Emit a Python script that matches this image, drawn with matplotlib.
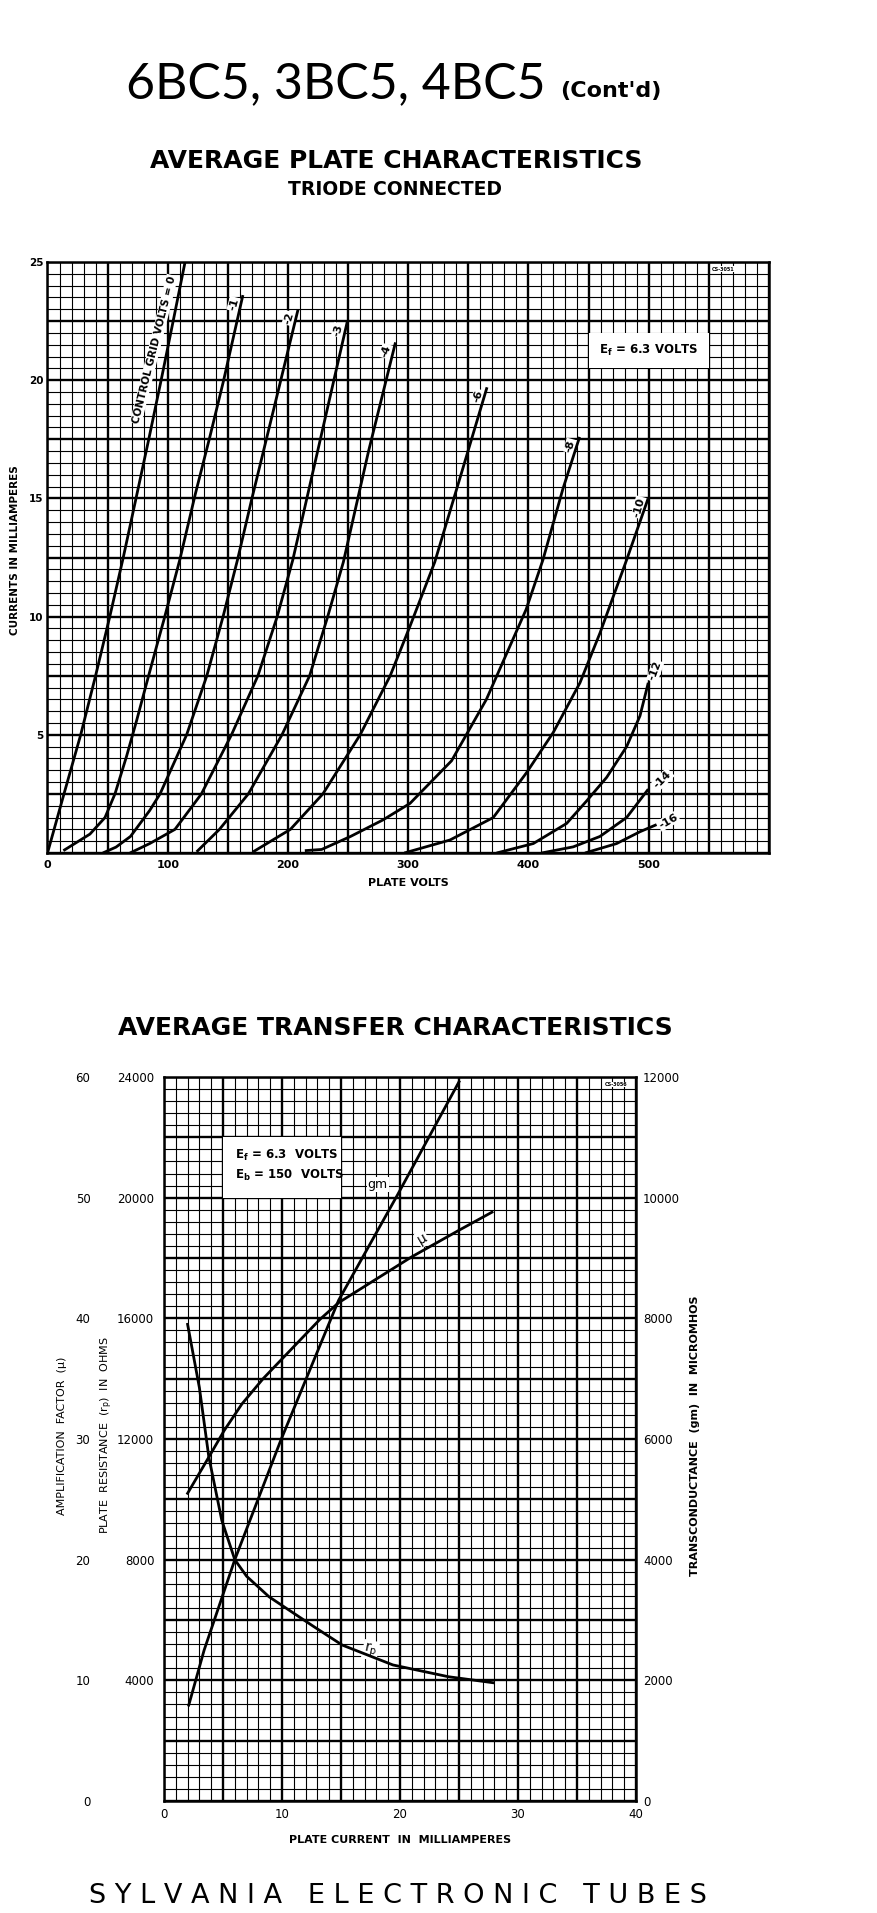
import matplotlib
matplotlib.use("Agg")
import matplotlib.pyplot as plt
import numpy as np
from matplotlib.patches import Rectangle

plt.rcParams["font.family"] = ["DejaVu Sans"]

W, H = 878, 1913

# ---- average plate characteristics, triode connected (plate volts, mA) ----
grid_labels = ["0", "-1", "-2", "-3", "-4", "-6", "-8", "-10", "-12", "-14", "-16"]

eb_g0 = [0, 13.7, 27.6, 40, 51.8, 63, 73.6, 84.2, 94.5, 104.5, 114.4]
ib_g0 = [0, 2.5, 5, 7.5, 10, 12.5, 15, 17.5, 20, 22.5, 25]

eb_g1 = [13.2, 35.3, 47.8, 56.1, 65.8, 74.1, 82.5, 90.5, 97, 110, 123, 135, 146.5, 162.5]
ib_g1 = [0.1, 0.8, 1.5, 2.5, 4.1, 5.6, 7.2, 8.7, 9.9, 12.4, 15.2, 17.6, 20, 23.6]

eb_g2 = [46, 57, 69, 85, 93.6, 115.7, 132.5, 146, 158, 170, 182, 194, 208.4]
ib_g2 = [0, 0.25, 0.7, 1.8, 2.5, 5, 7.5, 10, 12.4, 15, 17.5, 20, 23.0]

eb_g3 = [68.6, 85, 106, 128, 153, 175, 191, 204, 226, 249.4]
ib_g3 = [0, 0.4, 1.0, 2.5, 5, 7.5, 10, 12.4, 17.3, 22.5]

eb_g4 = [124, 143, 167, 195, 218, 233, 246, 267, 289.4]
ib_g4 = [0.05, 1.0, 2.5, 5, 7.5, 10, 12.3, 17, 21.6]

eb_g6 = [171, 202, 229, 260, 285, 301.5, 322, 345, 365.5]
ib_g6 = [0.05, 1.0, 2.5, 5, 7.5, 9.6, 12.3, 16.2, 19.7]

eb_g8 = [214, 228, 252, 279, 301.5, 336, 365, 398, 412, 428.6, 442.5]
ib_g8 = [0.1, 0.15, 0.7, 1.4, 2.1, 3.9, 6.5, 10.3, 12.4, 15.4, 17.6]

eb_g10 = [296.7, 334.7, 370.7, 398.4, 420.6, 442.8, 459.4, 481.6, 499.5]
ib_g10 = [0, 0.55, 1.5, 3.4, 5.1, 7.2, 9.3, 12.4, 15.0]

eb_g12 = [373.5, 404, 431.7, 448.3, 465, 481.6, 492.7, 499.6]
ib_g12 = [0, 0.4, 1.25, 2.2, 3.2, 4.5, 5.8, 7.2]

eb_g14 = [410.9, 437.2, 459.4, 481.6, 499.6]
ib_g14 = [0, 0.26, 0.7, 1.5, 2.7]

eb_g16 = [447, 473.3, 492.7, 506.5]
ib_g16 = [0, 0.4, 0.9, 1.2]

# ---- average transfer characteristics (plate mA) ----
ib_gm = [2.1, 3.4, 6.0, 9.9, 14.8, 19.8, 25.0]
gm_umhos = [1590, 2500, 4000, 5980, 8300, 10050, 11920]

ib_mu = [2.0, 3.8, 5.1, 6.6, 8.4, 13.2, 14.8, 21.0, 25.0, 27.8]
mu_vals = [25.5, 28.5, 30.7, 32.9, 35.0, 39.9, 41.3, 45.1, 47.3, 48.8]

ib_rp = [2.0, 3.0, 3.8, 4.9, 6.0, 7.0, 8.9, 12.7, 15.1, 19.4, 24.1, 27.9]
rp_ohms = [15800, 13700, 11400, 9300, 8000, 7450, 6770, 5780, 5170, 4510, 4120, 3920]

plate_curves = [
    (eb_g0, ib_g0), (eb_g1, ib_g1), (eb_g2, ib_g2), (eb_g3, ib_g3),
    (eb_g4, ib_g4), (eb_g6, ib_g6), (eb_g8, ib_g8), (eb_g10, ib_g10),
    (eb_g12, ib_g12), (eb_g14, ib_g14), (eb_g16, ib_g16),
]

LW_MINOR = 0.8
LW_MAJOR = 1.7
CURVE_LW = 2.0
WHITE_BOX = dict(boxstyle="square,pad=0.08", fc="white", ec="none")


def px_axes(left, top, right, bottom):
    return [left / W, 1 - bottom / H, (right - left) / W, (bottom - top) / H]


def paper_grid(ax):
    ax.grid(which="major", color="black", lw=LW_MAJOR)
    ax.grid(which="minor", color="black", lw=LW_MINOR)
    ax.tick_params(which="both", length=0)
    for s in ax.spines.values():
        s.set_linewidth(1.8)


fig = plt.figure(figsize=(W / 100, H / 100), dpi=100)
fig.patch.set_facecolor("white")

# titles
fig.text(126 / W, 1 - 98 / H, "6BC5, 3BC5, 4BC5", family=["Lato", "DejaVu Sans"],
         fontsize=36, ha="left", va="baseline")
fig.text(560 / W, 1 - 97 / H, "(Cont'd)", fontsize=16, weight="bold",
         ha="left", va="baseline")
fig.text(396 / W, 1 - 168 / H, "AVERAGE PLATE CHARACTERISTICS", fontsize=18,
         weight="bold", ha="center", va="baseline")
fig.text(395 / W, 1 - 195 / H, "TRIODE CONNECTED", fontsize=13.5,
         weight="bold", ha="center", va="baseline")
fig.text(395 / W, 1 - 1035 / H, "AVERAGE TRANSFER CHARACTERISTICS", fontsize=18,
         weight="bold", ha="center", va="baseline")
fig.text(398 / W, 1 - 1903 / H,
         "S Y L V A N I A   E L E C T R O N I C   T U B E S",
         fontsize=19.5, ha="center", va="baseline")

# ---------------- plate characteristics ----------------
ax1 = fig.add_axes(px_axes(47.5, 262, 769, 853))
ax1.set_xlim(0, 600)
ax1.set_ylim(0, 25)
xt = np.arange(0, 601, 50)
ax1.set_xticks(xt)
ax1.set_xticklabels([str(v) if v % 100 == 0 and v < 600 else "" for v in xt],
                    fontsize=8, fontweight="bold")
ax1.set_xticks(np.arange(0, 601, 10), minor=True)
yt = np.arange(0, 25.01, 2.5)
ax1.set_yticks(yt)
ax1.set_yticklabels([f"{v:g}" if v % 5 == 0 and v > 0 else "" for v in yt],
                    fontsize=7.5, fontweight="bold")
ax1.set_yticks(np.arange(0, 25.01, 0.5), minor=True)
paper_grid(ax1)
ax1.tick_params(axis="x", pad=5)
ax1.tick_params(axis="y", pad=3)
ax1.set_xlabel("PLATE VOLTS", fontsize=8, fontweight="bold", labelpad=6)
ax1.set_ylabel("CURRENTS IN MILLIAMPERES", fontsize=7.5, fontweight="bold", va="center")
ax1.yaxis.set_label_coords(-0.045, 0.513)

for eb, ib in plate_curves:
    ax1.plot(eb, ib, color="black", lw=CURVE_LW, zorder=3, solid_capstyle="butt")

ax1.text(88.5, 21.3, "CONTROL GRID VOLTS = 0", rotation=76, ha="center", va="center",
         fontsize=7.5, fontweight="bold", bbox=WHITE_BOX, zorder=2.5)

# labels at the top end of the curves, left of the line
for (eb, ib), lab in zip(plate_curves[1:8], grid_labels[1:8]):
    ax1.annotate(lab, xy=(eb[-1], ib[-1]), xytext=(-6.5, -6.5),
                 textcoords="offset points", rotation=75, ha="center", va="center",
                 fontsize=8, fontweight="bold", bbox=WHITE_BOX, zorder=2.5)

# labels past the end for the low curves
for (eb, ib), lab, off, rot in zip(plate_curves[8:], grid_labels[8:],
                                   [(5, 8.5), (10.5, 7), (8.5, 2.5)], [70, 45, 30]):
    ax1.annotate(lab, xy=(eb[-1], ib[-1]), xytext=off, textcoords="offset points",
                 rotation=rot, ha="center", va="center", fontsize=8,
                 fontweight="bold", bbox=WHITE_BOX, zorder=2.5)

ax1.add_patch(Rectangle((450, 20.5), 100, 1.5, fc="white", ec="none", zorder=2))
ax1.text(500, 21.25, r"E$_\mathbf{f}$ = 6.3 VOLTS", ha="center", va="center",
         fontsize=8.5, fontweight="bold", zorder=3)
ax1.text(562, 24.7, "CS-3051", ha="center", va="center", fontsize=3.5,
         fontweight="bold", bbox=WHITE_BOX, zorder=3)

# ---------------- transfer characteristics ----------------
ax2 = fig.add_axes(px_axes(164, 1077, 636, 1801))
ax2.set_xlim(0, 40)
ax2.set_ylim(0, 24000)
xt2 = np.arange(0, 41, 5)
ax2.set_xticks(xt2)
ax2.set_xticklabels([str(v) if v % 10 == 0 else "" for v in xt2], fontsize=8.5)
ax2.set_xticks(np.arange(0, 41, 1), minor=True)
yt2 = np.arange(0, 24001, 2000)
ax2.set_yticks(yt2)
ax2.set_yticklabels([str(v) if v % 4000 == 0 and v > 0 else "" for v in yt2], fontsize=8.5)
ax2.set_yticks(np.arange(0, 24001, 400), minor=True)
paper_grid(ax2)
ax2.tick_params(axis="x", pad=5)
ax2.tick_params(axis="y", pad=7)
ax2.set_xlabel("PLATE CURRENT  IN  MILLIAMPERES", fontsize=8, fontweight="bold", labelpad=10)
ax2.set_ylabel(r"PLATE  RESISTANCE  (r$_\mathregular{p}$)  IN  OHMS", fontsize=8, va="center")
ax2.yaxis.set_label_coords(-0.122, 0.505)

ax_mu = ax2.twinx()
ax_mu.set_ylim(0, 60)
ax_mu.yaxis.tick_left()
ax_mu.yaxis.set_label_position("left")
ax_mu.spines["left"].set_position(("outward", 53))
for s in ax_mu.spines.values():
    s.set_visible(False)
ax_mu.set_yticks(np.arange(0, 61, 10))
ax_mu.tick_params(length=0, pad=0, labelsize=8.5)
ax_mu.set_ylabel("AMPLIFICATION  FACTOR  (μ)", fontsize=8, va="center")
ax_mu.yaxis.set_label_coords(-0.216, 0.505)

ax_gm = ax2.twinx()
ax_gm.set_ylim(0, 12000)
for s in ax_gm.spines.values():
    s.set_visible(False)
ax_gm.set_yticks(np.arange(0, 12001, 2000))
ax_gm.tick_params(length=0, pad=5, labelsize=8.5)
ax_gm.set_ylabel("TRANSCONDUCTANCE  (gm)  IN  MICROMHOS", fontsize=8,
                 fontweight="bold", rotation=90, va="center")
ax_gm.yaxis.set_label_coords(1.125, 0.505)

ax2.plot(ib_rp, rp_ohms, color="black", lw=CURVE_LW, zorder=3)
ax_mu.plot(ib_mu, mu_vals, color="black", lw=CURVE_LW, zorder=3)
ax_gm.plot(ib_gm, gm_umhos, color="black", lw=CURVE_LW, zorder=3)

ax_gm.text(18.1, 10210, "gm", ha="center", va="center", fontsize=9,
           bbox=WHITE_BOX, zorder=2.5)
ax_mu.text(21.9, 46.6, "μ", ha="center", va="center", fontsize=10, rotation=30,
           bbox=WHITE_BOX, zorder=2.5)
ax2.text(17.5, 5000, r"r$_\mathregular{p}$", ha="center", va="center", fontsize=10,
         rotation=-12, bbox=WHITE_BOX, zorder=2.5)

ax2.add_patch(Rectangle((5, 20000), 10, 2000, fc="white", ec="none", zorder=2))
ax2.text(6.0, 21390, r"E$_\mathbf{f}$ = 6.3  VOLTS", ha="left", va="center",
         fontsize=8.5, fontweight="bold", zorder=3)
ax2.text(6.0, 20730, r"E$_\mathbf{b}$ = 150  VOLTS", ha="left", va="center",
         fontsize=8.5, fontweight="bold", zorder=3)
ax2.text(38.3, 23750, "CS-3056", ha="center", va="center", fontsize=3.5,
         fontweight="bold", bbox=WHITE_BOX, zorder=3)

fig.savefig("out.png", dpi=100, facecolor="white")
